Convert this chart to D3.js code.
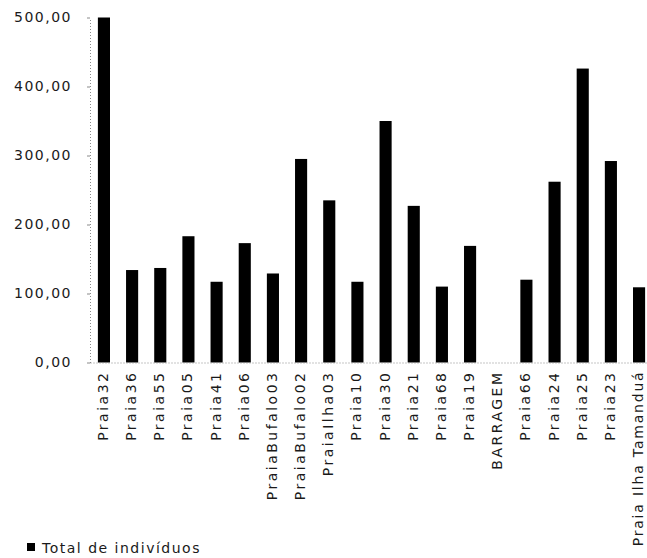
<!DOCTYPE html>
<html>
<head>
<meta charset="utf-8">
<script src="https://cdn.jsdelivr.net/npm/d3@7"></script>
<style>
  html, body { margin: 0; padding: 0; background: #fff; }
  svg { display: block; }
  text { font-family: "DejaVu Sans", sans-serif; fill: #1a1a1a; }
</style>
</head>
<body>
<svg id="chart" width="647" height="558"></svg>
<script>
// Sampling sites and total individuals counted at each
const categories = [
  "Praia32", "Praia36", "Praia55", "Praia05", "Praia41", "Praia06",
  "PraiaBufalo03", "PraiaBufalo02", "PraiaIlha03", "Praia10", "Praia30",
  "Praia21", "Praia68", "Praia19", "BARRAGEM", "Praia66", "Praia24",
  "Praia25", "Praia23", "Praia Ilha Tamanduá"
];
const totals = [
  500, 134, 137, 183, 117, 173,
  129, 295, 235, 117, 350,
  227, 110, 169, 0, 120, 262,
  426, 292, 109
];
const yTicks = [0, 100, 200, 300, 400, 500];
const seriesName = "Total de indivíduos";

const svg = d3.select("#chart");

const ptBR = d3.formatLocale({ decimal: ",", thousands: ".", grouping: [3], currency: ["R$", ""] });
const fmt = ptBR.format(".2f");

const x = d3.scaleBand()
  .domain(categories)
  .range([90, 653])
  .paddingInner(0.57)
  .paddingOuter(0.28);

const y = d3.scaleLinear()
  .domain([0, 500])
  .range([362.5, 17.5]);

// Y axis with dotted line
const yAxis = svg.append("g")
  .attr("transform", "translate(90,0)")
  .call(d3.axisLeft(y).tickValues(yTicks).tickFormat(fmt).tickSizeInner(3).tickSizeOuter(0).tickPadding(15));
yAxis.select(".domain").attr("stroke", "#8a8a8a").attr("stroke-dasharray", "1,2");
yAxis.selectAll(".tick line").attr("stroke", "#8a8a8a");
yAxis.selectAll(".tick text")
  .attr("font-size", 14)
  .attr("letter-spacing", "1.5px")
  .attr("fill", "#1a1a1a");

// Bars
svg.append("g")
  .selectAll("rect")
  .data(categories)
  .join("rect")
  .attr("x", d => x(d))
  .attr("width", x.bandwidth())
  .attr("y", (d, i) => y(totals[i]))
  .attr("height", (d, i) => y(0) - y(totals[i]))
  .attr("fill", "#000");

// X axis: dotted baseline and rotated category labels
const xAxis = svg.append("g")
  .attr("transform", `translate(0,${y(0)})`)
  .call(d3.axisBottom(x).tickSize(0).tickPadding(0));
xAxis.select(".domain").attr("stroke", "#8a8a8a").attr("stroke-dasharray", "1,2");
xAxis.selectAll(".tick text")
  .attr("font-size", 14)
  .attr("letter-spacing", d => d.length > 14 ? "1.8px" : "2.5px")
  .attr("fill", "#1a1a1a")
  .attr("text-anchor", "end")
  .attr("dy", null)
  .attr("transform", "translate(4,8) rotate(-90)");

// Legend
const legend = svg.append("g").attr("transform", "translate(27,548)");
legend.append("rect")
  .attr("x", 0).attr("y", -5)
  .attr("width", 8).attr("height", 8)
  .attr("fill", "#000");
legend.append("text")
  .attr("x", 15).attr("y", 0)
  .attr("dy", "0.35em")
  .attr("font-size", 14)
  .attr("letter-spacing", "1.5px")
  .text(seriesName);
</script>
</body>
</html>
